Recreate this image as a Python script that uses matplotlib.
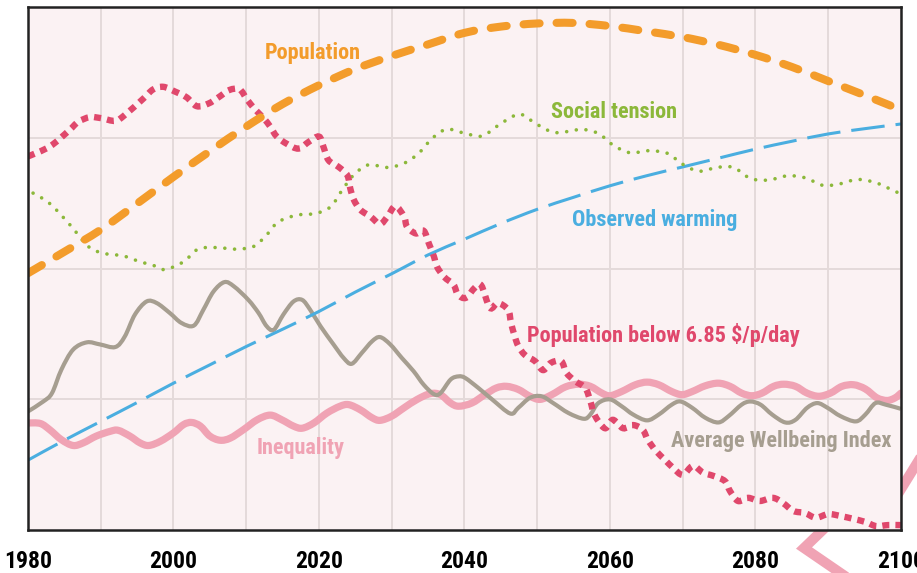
import os
import matplotlib
matplotlib.use("Agg")
import matplotlib.pyplot as plt
from matplotlib import font_manager
from matplotlib.font_manager import FontProperties
from matplotlib.lines import Line2D
from matplotlib.path import Path
from matplotlib.patches import PathPatch

# ---- data (index units 0-100) ----
pop_years = [1980, 1985, 1990, 1995, 2000, 2005, 2010, 2015, 2020, 2025, 2030, 2035, 2040,
             2045, 2050, 2055, 2060, 2065, 2070, 2075, 2080, 2085, 2090, 2095, 2100]
population = [49.1, 53.2, 57.4, 62.4, 67.5, 72.4, 77.1, 81.4, 85.0, 88.1, 90.6, 92.8, 95.0,
              96.2, 96.8, 96.9, 96.3, 95.3, 94.2, 92.7, 90.8, 88.5, 85.8, 83.1, 80.3]

warm_years = pop_years
warming = [13.4, 17.2, 20.8, 24.4, 28.1, 31.6, 35.1, 38.4, 41.8, 45.5, 49.0, 52.6, 55.6,
           58.6, 61.3, 63.6, 65.8, 67.7, 69.4, 71.1, 72.8, 74.3, 75.7, 76.7, 77.6]

tension_years = [1980.7, 1983.0, 1985.8, 1988.3, 1990.4, 1993.1, 1995.4, 1997.7, 1998.9,
                 2001.4, 2003.4, 2006.0, 2008.5, 2011.0, 2012.8, 2014.4, 2017.0, 2019.5,
                 2021.6, 2023.2, 2024.8, 2026.8, 2029.4, 2031.7, 2033.7, 2035.6, 2037.6,
                 2040.1, 2042.4, 2044.7, 2046.7, 2047.9, 2049.9, 2052.3, 2054.8, 2056.1,
                 2058.4, 2060.5, 2062.8, 2065.3, 2067.9, 2069.9, 2072.2, 2074.7, 2077.0,
                 2079.3, 2081.8, 2084.4, 2086.9, 2089.2, 2091.4, 2094.0, 2096.5, 2098.8, 2100.0]
tension = [64.4, 62.4, 58.3, 54.2, 52.9, 52.4, 51.3, 50.4, 49.8,
           51.3, 53.7, 54.0, 53.7, 54.2, 56.4, 58.9, 60.2, 60.5,
           61.8, 65.0, 67.9, 69.8, 69.3, 70.1, 72.0, 74.9, 76.6,
           75.8, 75.3, 77.4, 79.1, 79.4, 77.6, 76.0, 76.3, 76.6,
           75.8, 73.5, 72.1, 72.5, 72.0, 70.0, 68.6, 69.3, 69.3,
           67.2, 66.9, 67.7, 67.3, 65.9, 66.1, 67.0, 66.4, 65.0, 64.2]

poor_years = [1980.0, 1983.0, 1985.6, 1986.9, 1988.5, 1990.1, 1992.0, 1993.3, 1995.9, 1997.2,
              1998.6, 2000.2, 2001.8, 2003.2, 2004.8, 2006.2, 2007.7, 2009.1, 2010.1, 2011.2,
              2012.4, 2013.3, 2014.2, 2015.6, 2017.2, 2018.6, 2020.0, 2020.6, 2021.3, 2022.7,
              2023.9, 2024.3, 2024.8, 2025.7, 2027.1, 2028.4, 2029.4, 2030.5, 2031.7, 2032.1,
              2033.3, 2034.4, 2035.1, 2035.8, 2036.2, 2037.2, 2038.5, 2039.1, 2040.2, 2041.4,
              2042.3, 2043.5, 2044.6, 2046.0, 2046.4, 2046.9, 2047.4, 2048.3, 2049.7, 2050.8,
              2051.9, 2053.3, 2054.0, 2055.2, 2056.6, 2057.3, 2057.9, 2059.3, 2060.4, 2061.8,
              2063.2, 2064.5, 2065.2, 2066.3, 2067.6, 2068.7, 2070.0, 2071.4, 2072.8, 2074.2,
              2075.8, 2076.5, 2077.6, 2079.0, 2080.6, 2082.4, 2083.8, 2085.2, 2086.8, 2088.3,
              2090.0, 2091.8, 2093.4, 2095.1, 2096.6, 2098.2, 2100.0]
poor = [71.4, 73.3, 76.3, 78.0, 78.9, 78.7, 78.2, 79.3, 82.5, 84.2,
        84.7, 83.8, 82.7, 81.0, 81.5, 82.7, 84.1, 84.2, 82.3, 80.4,
        78.7, 77.1, 75.2, 73.8, 72.9, 74.2, 75.2, 73.3, 70.7, 69.4,
        67.8, 65.3, 63.1, 61.2, 59.9, 58.5, 59.9, 61.9, 59.9, 58.0,
        56.7, 57.2, 54.8, 52.3, 50.4, 48.4, 46.9, 45.0, 44.4, 46.3,
        46.8, 42.5, 43.4, 42.1, 39.6, 37.1, 35.2, 33.5, 32.3, 30.6,
        32.0, 32.3, 30.1, 28.5, 27.2, 24.7, 22.0, 19.5, 21.1, 19.5,
        20.1, 19.2, 17.3, 15.2, 13.4, 11.9, 10.6, 12.3, 11.0, 10.4,
        9.4, 7.5, 5.6, 6.2, 5.6, 6.2, 5.2, 3.7, 3.3, 2.4,
        3.1, 2.7, 2.2, 1.6, 0.8, 1.0, 1.0]

well_years = [1980.0, 1982.1, 1983.3, 1984.6, 1986.2, 1988.1, 1989.9, 1992.0, 1993.3, 1994.7,
              1996.3, 1997.7, 1999.5, 2001.1, 2002.8, 2004.1, 2005.5, 2007.0, 2008.3, 2010.3,
              2011.7, 2012.8, 2013.8, 2015.1, 2016.5, 2017.7, 2018.8, 2020.2, 2022.0, 2023.4,
              2024.5, 2025.9, 2027.3, 2028.4, 2029.8, 2031.4, 2033.0, 2034.4, 2035.8, 2036.7,
              2038.1, 2039.2, 2040.1, 2041.9, 2043.8, 2046.3, 2047.4, 2049.0, 2050.6, 2052.2,
              2054.3, 2056.4, 2057.3, 2058.4, 2060.0, 2061.6, 2063.2, 2065.1, 2066.7, 2068.5,
              2069.7, 2071.3, 2073.1, 2074.9, 2076.3, 2078.1, 2079.3, 2080.7, 2082.3, 2084.1,
              2085.5, 2087.1, 2088.5, 2089.9, 2091.7, 2093.8, 2095.1, 2096.5, 2097.9, 2100.0]
wellbeing = [22.7, 24.6, 26.2, 30.7, 34.5, 35.9, 35.5, 35.0, 37.0, 41.2,
             43.7, 43.4, 41.5, 39.6, 39.1, 42.1, 45.6, 47.4, 46.6, 44.0,
             41.5, 39.0, 38.3, 41.2, 43.7, 44.0, 42.1, 39.0, 35.5, 32.9,
             31.8, 33.9, 36.1, 36.9, 35.5, 32.9, 30.4, 27.8, 26.0, 26.2,
             28.8, 29.4, 29.1, 27.2, 25.0, 22.3, 23.4, 25.3, 25.6, 24.3,
             22.4, 21.3, 22.1, 24.3, 25.0, 23.7, 22.1, 21.0, 22.1, 24.0,
             24.6, 23.4, 21.5, 20.6, 21.8, 24.0, 24.6, 24.0, 22.1, 20.6,
             21.1, 23.4, 24.3, 23.4, 21.8, 20.8, 22.1, 24.3, 24.0, 23.2]

ineq_years = [1980.0, 1981.7, 1983.0, 1984.6, 1986.2, 1987.6, 1989.4, 1991.3, 1992.4, 1994.0,
              1995.4, 1996.6, 1998.2, 2000.0, 2001.4, 2002.5, 2003.7, 2005.0, 2006.4, 2007.8,
              2009.6, 2011.5, 2013.3, 2014.9, 2016.5, 2017.7, 2019.3, 2021.1, 2022.9, 2024.1,
              2025.7, 2027.3, 2028.4, 2030.0, 2031.7, 2033.5, 2035.3, 2036.7, 2038.1, 2039.2,
              2041.0, 2042.8, 2044.4, 2045.8, 2047.4, 2049.0, 2050.4, 2052.0, 2053.9, 2055.7,
              2057.3, 2058.9, 2060.0, 2061.6, 2063.5, 2065.1, 2066.7, 2068.5, 2069.9, 2071.3,
              2073.1, 2074.9, 2076.5, 2078.1, 2079.5, 2080.9, 2082.5, 2083.9, 2085.5, 2087.1,
              2088.7, 2090.3, 2091.9, 2093.5, 2095.1, 2096.7, 2098.1, 2099.2, 2100.0]
inequality = [20.5, 20.4, 19.2, 17.3, 16.2, 16.7, 18.0, 18.9, 19.1, 18.0,
              16.7, 16.2, 17.0, 18.6, 20.2, 20.6, 19.9, 18.0, 17.2, 17.6,
              19.2, 21.1, 22.0, 21.1, 19.9, 19.5, 20.5, 22.4, 23.7, 24.0,
              23.0, 21.5, 21.0, 21.8, 23.4, 25.0, 26.1, 25.9, 24.3, 23.7,
              24.3, 25.9, 27.2, 27.5, 26.9, 25.6, 25.0, 25.9, 27.4, 27.9,
              27.5, 26.2, 25.7, 26.5, 27.8, 28.3, 27.8, 26.5, 25.9, 26.5,
              27.6, 28.1, 27.5, 26.2, 25.7, 26.2, 27.5, 27.9, 27.5, 26.2,
              25.6, 26.2, 27.5, 27.8, 27.0, 25.3, 24.8, 25.3, 26.2]

tick_years = [1980, 2000, 2020, 2040, 2060, 2080, 2100]

ORANGE = "#f39c2b"
GREEN = "#8cb83a"
BLUE = "#4aaee0"
CRIMSON = "#e0486c"
TAUPE = "#a69e90"
PINK = "#f0a3b4"

# look for a bold condensed face, the reference uses a narrow grotesque
wanted = ["LiberationSansNarrow-Bold", "RobotoCondensed-Bold", "NotoSans-CondensedBold",
          "DejaVuSansCondensed-Bold", "OpenSans-CondensedBold", "OpenSans_Condensed-Bold"]
files = {os.path.splitext(os.path.basename(f.fname))[0]: f.fname
         for f in font_manager.fontManager.ttflist}
narrow = None
for w in wanted:
    if w in files:
        narrow = files[w]
        break
if narrow:
    FP = FontProperties(fname=narrow)
    scale = 1.0
else:
    FP = FontProperties(family="Roboto", weight="bold")
    scale = 0.88


def smooth_line(ax, xs, ys, **kw):
    # draw the points as a Catmull-Rom curve (cubic bezier segments) in data space
    pts = list(zip(xs, ys))
    verts = [pts[0]]
    codes = [Path.MOVETO]
    for i in range(len(pts) - 1):
        p0 = pts[max(i - 1, 0)]
        p1 = pts[i]
        p2 = pts[i + 1]
        p3 = pts[min(i + 2, len(pts) - 1)]
        c1 = (p1[0] + (p2[0] - p0[0]) / 6, p1[1] + (p2[1] - p0[1]) / 6)
        c2 = (p2[0] - (p3[0] - p1[0]) / 6, p2[1] - (p3[1] - p1[1]) / 6)
        verts += [c1, c2, p2]
        codes += [Path.CURVE4] * 3
    patch = PathPatch(Path(verts, codes), fill=False, transform=ax.transData, **kw)
    ax.add_patch(patch)
    return patch


fig = plt.figure(figsize=(9.17, 5.73), dpi=100)
fig.patch.set_facecolor("white")
ax = fig.add_axes([0.0305, 0.0745, 0.952, 0.9138])
ax.set_facecolor("#fbf2f3")

# decorative pink chevron behind the chart (only the parts outside the frame show)
fig.add_artist(Line2D([935 / 917, 885 / 917, 830 / 917, 804 / 917, 858 / 917],
                      [1 - 434 / 573, 1 - 515 / 573, 1 - 523 / 573, 1 - 548 / 573, 1 - 585 / 573],
                      transform=fig.transFigure, color=PINK, lw=7.3,
                      solid_joinstyle="miter", zorder=-1))

smooth_line(ax, ineq_years, inequality, edgecolor=PINK, lw=5.2, capstyle="round",
            joinstyle="round", zorder=3)
smooth_line(ax, well_years, wellbeing, edgecolor=TAUPE, lw=3.0, joinstyle="round", zorder=3)
smooth_line(ax, warm_years, warming, edgecolor=BLUE, lw=2.2, linestyle=(0, (11, 3.6)),
            capstyle="butt", zorder=3)
smooth_line(ax, tension_years, tension, edgecolor=GREEN, lw=2.6, linestyle=(0, (0.01, 2.7)),
            capstyle="round", zorder=3)
smooth_line(ax, poor_years, poor, edgecolor=CRIMSON, lw=4.6, linestyle=(0, (1.1, 0.95)),
            capstyle="butt", zorder=4)
smooth_line(ax, pop_years, population, edgecolor=ORANGE, lw=5.8, linestyle=(0, (2.0, 2.1)),
            capstyle="round", zorder=4)

lab_fp = FP.copy()
lab_fp.set_size(16 * scale)
lab = dict(fontproperties=lab_fp, ha="center", va="baseline", zorder=5)
ax.text(2019.1, 90.1, "Population", color=ORANGE, **lab)
ax.text(2060.6, 78.7, "Social tension", color=GREEN, **lab)
ax.text(2066.1, 58.1, "Observed warming", color=BLUE, **lab)
ax.text(2067.3, 35.9, "Population below 6.85 $/p/day", color=CRIMSON, **lab)
ax.text(2083.6, 16.0, "Average Wellbeing Index", color=TAUPE, **lab)
ax.text(2017.5, 14.6, "Inequality", color=PINK, **lab)

ax.set_xlim(1980, 2100)
ax.set_ylim(0, 100)
ax.set_xticks(range(1990, 2100, 10), minor=True)
ax.set_xticks(tick_years)
tick_fp = FP.copy()
tick_fp.set_size(17 * scale)
ax.set_xticklabels([str(y) for y in tick_years], fontproperties=tick_fp, color="black")
ax.set_yticks([25, 50, 75])
ax.set_yticklabels([])
ax.tick_params(axis="both", which="both", length=0)
ax.tick_params(axis="x", pad=14)
ax.grid(True, which="both", color="#e4dada", lw=1.4, zorder=1)
ax.set_axisbelow(True)
for s in ax.spines.values():
    s.set_color("#222222")
    s.set_linewidth(1.8)
    s.set_zorder(6)

fig.savefig("out.png", dpi=100)
